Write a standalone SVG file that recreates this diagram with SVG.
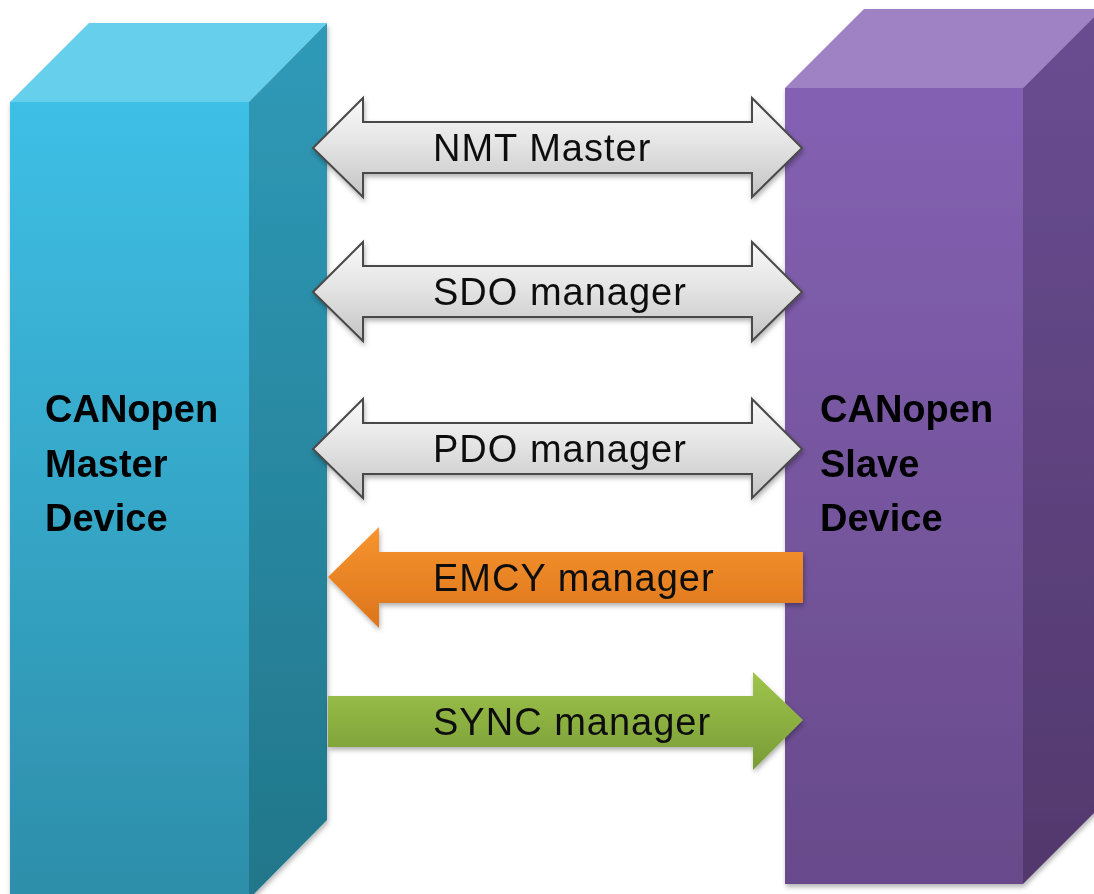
<svg xmlns="http://www.w3.org/2000/svg" width="1094" height="894" viewBox="0 0 1094 894">
  <defs>
    <linearGradient id="mFront" x1="0" y1="0" x2="0" y2="1">
      <stop offset="0" stop-color="#3ebfe6"/>
      <stop offset="1" stop-color="#2d8ea9"/>
    </linearGradient>
    <linearGradient id="mSide" x1="0" y1="0" x2="0" y2="1">
      <stop offset="0" stop-color="#2f9ab8"/>
      <stop offset="1" stop-color="#22768a"/>
    </linearGradient>
    <linearGradient id="sFront" x1="0" y1="0" x2="0" y2="1">
      <stop offset="0" stop-color="#8461b3"/>
      <stop offset="1" stop-color="#684a8a"/>
    </linearGradient>
    <linearGradient id="sSide" x1="0" y1="0" x2="0" y2="1">
      <stop offset="0" stop-color="#6a4d92"/>
      <stop offset="1" stop-color="#52386c"/>
    </linearGradient>
    <linearGradient id="grey" x1="0" y1="0" x2="0" y2="1">
      <stop offset="0" stop-color="#fafafa"/>
      <stop offset="0.5" stop-color="#e2e2e2"/>
      <stop offset="1" stop-color="#c4c4c4"/>
    </linearGradient>
    <linearGradient id="orange" x1="0" y1="0" x2="0" y2="1">
      <stop offset="0" stop-color="#f7952f"/>
      <stop offset="1" stop-color="#dc741b"/>
    </linearGradient>
    <linearGradient id="green" x1="0" y1="0" x2="0" y2="1">
      <stop offset="0" stop-color="#9fc54c"/>
      <stop offset="1" stop-color="#789b36"/>
    </linearGradient>
    <filter id="shadow" x="-10%" y="-10%" width="120%" height="120%">
      <feDropShadow dx="1" dy="3" stdDeviation="2.5" flood-color="#000" flood-opacity="0.3"/>
    </filter>
  </defs>
  <style>
    .lbl { font-family: "Liberation Sans", Arial, sans-serif; font-size: 38px; font-weight: bold; fill: #000; }
    .atxt { font-family: "Liberation Sans", Arial, sans-serif; font-size: 38px; fill: #111; letter-spacing: 1px; }
    .gArrow { fill: url(#grey); stroke: #4a4a4a; stroke-width: 2; stroke-linejoin: miter; }
  </style>

  <rect width="1094" height="894" fill="#ffffff"/>

  <!-- master device block -->
  <g id="master" filter="url(#shadow)">
    <polygon points="10,102 89,23 327,23 249,102" fill="#66cfeb"/>
    <rect x="10" y="102" width="239" height="800" fill="url(#mFront)"/>
    <polygon points="249,102 327,23 327,820 249,899" fill="url(#mSide)"/>
    <text class="lbl" x="45" y="422">CANopen</text>
    <text class="lbl" x="45" y="477">Master</text>
    <text class="lbl" x="45" y="531">Device</text>
  </g>

  <!-- slave device block -->
  <g id="slave" filter="url(#shadow)">
    <polygon points="785,88 864,9 1102,9 1023,88" fill="#9e82c4"/>
    <rect x="785" y="88" width="238" height="796" fill="url(#sFront)"/>
    <polygon points="1023,88 1102,9 1102,805 1023,884" fill="url(#sSide)"/>
    <text class="lbl" x="820" y="422">CANopen</text>
    <text class="lbl" x="820" y="477">Slave</text>
    <text class="lbl" x="820" y="531">Device</text>
  </g>

  <!-- service arrows between the two devices -->
  <g id="connectors">
    <g id="nmt" filter="url(#shadow)">
      <polygon class="gArrow" points="313,148 363,98 363,122 752,122 752,98 802,148 752,197 752,173 363,173 363,197"/>
      <text class="atxt" x="433" y="161">NMT Master</text>
    </g>
    <g id="sdo" filter="url(#shadow)">
      <polygon class="gArrow" points="313,292 363,242 363,266 752,266 752,242 802,292 752,341 752,317 363,317 363,341"/>
      <text class="atxt" x="433" y="305">SDO manager</text>
    </g>
    <g id="pdo" filter="url(#shadow)">
      <polygon class="gArrow" points="313,449 363,399 363,423 752,423 752,399 802,449 752,498 752,474 363,474 363,498"/>
      <text class="atxt" x="433" y="462">PDO manager</text>
    </g>
    <g id="emcy" filter="url(#shadow)">
      <polygon points="328,577 379,527 379,552 803,552 803,603 379,603 379,628" fill="url(#orange)"/>
      <text class="atxt" x="433" y="591">EMCY manager</text>
    </g>
    <g id="sync" filter="url(#shadow)">
      <polygon points="328,696 753,696 753,672 803,720 753,770 753,747 328,747" fill="url(#green)"/>
      <text class="atxt" x="433" y="735">SYNC manager</text>
    </g>
  </g>
</svg>
